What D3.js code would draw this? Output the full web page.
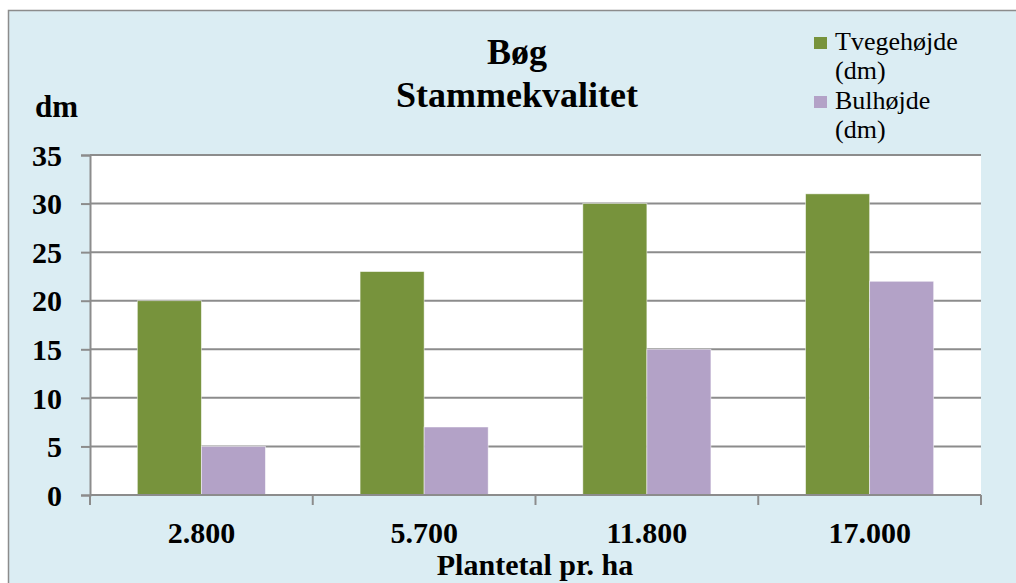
<!DOCTYPE html>
<html>
<head>
<meta charset="utf-8">
<script src="https://cdn.jsdelivr.net/npm/d3@7/dist/d3.min.js"></script>
<style>
  html, body { margin: 0; padding: 0; background: #ffffff; }
  svg { display: block; }
  svg text { font-family: "Liberation Serif", "Times New Roman", serif !important; }
</style>
</head>
<body>
<svg id="chart" width="1016" height="583"></svg>
<script>
const categories = ["2.800", "5.700", "11.800", "17.000"];
const seriesNames = ["Tvegehøjde", "Bulhøjde"];
const tvegehojde = [20, 23, 30, 31];
const bulhojde = [5, 7, 15, 22];
const yTicks = [0, 5, 10, 15, 20, 25, 30, 35];
const colors = ["#77933C", "#B3A2C7"];

const SERIF = "'Liberation Serif', 'Times New Roman', serif";
const svg = d3.select("#chart");

// outer chart area
svg.append("rect")
  .attr("x", 8.5).attr("y", 10.5)
  .attr("width", 1030).attr("height", 600)
  .attr("fill", "#DBEDF3")
  .attr("stroke", "#8C8C8C").attr("stroke-width", 1.5);

const plot = { left: 90, right: 981, top: 155, bottom: 495 };

const y = d3.scaleLinear().domain([0, 35]).range([plot.bottom, plot.top]);
const x0 = d3.scaleBand().domain(categories)
  .range([plot.left, plot.right])
  .paddingInner(0.425).paddingOuter(0.2125);
const x1 = d3.scaleBand().domain(seriesNames).range([0, x0.bandwidth()]).padding(0);

// plot background
svg.append("rect")
  .attr("x", plot.left).attr("y", plot.top)
  .attr("width", plot.right - plot.left).attr("height", plot.bottom - plot.top)
  .attr("fill", "#ffffff");

// gridlines
svg.append("g").selectAll("line")
  .data(yTicks.filter(d => d > 0))
  .join("line")
  .attr("x1", plot.left).attr("x2", plot.right)
  .attr("y1", d => y(d)).attr("y2", d => y(d))
  .attr("stroke", "#8C8C8C").attr("stroke-width", 2);

// bars
const data = categories.map((c, i) => ({ cat: c, vals: [tvegehojde[i], bulhojde[i]] }));
const groups = svg.append("g").selectAll("g")
  .data(data).join("g")
  .attr("transform", d => `translate(${x0(d.cat)},0)`);
groups.selectAll("rect")
  .data(d => d.vals.map((v, j) => ({ name: seriesNames[j], v, j })))
  .join("rect")
  .attr("x", d => x1(d.name))
  .attr("y", d => y(d.v))
  .attr("width", x1.bandwidth())
  .attr("height", d => y(0) - y(d.v))
  .attr("fill", d => colors[d.j])
  .attr("stroke", "rgba(255,255,255,0.6)").attr("stroke-width", 0.8);

// y axis
const yAxis = d3.axisLeft(y).tickValues(yTicks).tickSize(9).tickPadding(8).tickFormat(d3.format("d"));
const gy = svg.append("g").attr("transform", `translate(${plot.left},0)`).call(yAxis)
  .attr("font-family", SERIF);
gy.select(".domain").attr("stroke", "#8C8C8C").attr("stroke-width", 2);
gy.selectAll(".tick line").attr("stroke", "#8C8C8C").attr("stroke-width", 2);
gy.selectAll(".tick text")
  .style("font-family", SERIF)
  .attr("font-size", 30).attr("font-weight", "bold")
  .attr("fill", "#000").attr("dy", "0.34em").attr("x", -28);

// x axis (ticks on category boundaries)
const boundaries = d3.range(categories.length + 1).map(i => plot.left + i * x0.step());
svg.append("line")
  .attr("x1", plot.left).attr("x2", plot.right)
  .attr("y1", plot.bottom).attr("y2", plot.bottom)
  .attr("stroke", "#8C8C8C").attr("stroke-width", 2);
svg.append("g").selectAll("line")
  .data(boundaries).join("line")
  .attr("x1", d => d).attr("x2", d => d)
  .attr("y1", plot.bottom).attr("y2", plot.bottom + 10)
  .attr("stroke", "#8C8C8C").attr("stroke-width", 2);
svg.append("g").selectAll("text")
  .data(categories).join("text")
  .style("font-family", SERIF)
  .attr("x", d => x0(d) + x0.bandwidth() / 2)
  .attr("y", 543)
  .attr("text-anchor", "middle")
  .attr("font-size", 30).attr("font-weight", "bold")
  .text(d => d);

// axis titles
svg.append("text").attr("x", 535).attr("y", 575).style("font-family", SERIF)
  .attr("text-anchor", "middle").attr("font-size", 30).attr("font-weight", "bold")
  .text("Plantetal pr. ha");
svg.append("text").attr("x", 35).attr("y", 117).style("font-family", SERIF)
  .attr("font-size", 31).attr("font-weight", "bold")
  .text("dm");

// title
svg.append("text").attr("x", 517).attr("y", 64).style("font-family", SERIF)
  .attr("text-anchor", "middle").attr("font-size", 36).attr("font-weight", "bold")
  .text("Bøg");
svg.append("text").attr("x", 517).attr("y", 107).style("font-family", SERIF)
  .attr("text-anchor", "middle").attr("font-size", 36).attr("font-weight", "bold")
  .text("Stammekvalitet");

// legend
const legend = svg.append("g");
const legendRows = [
  { lines: ["Tvegehøjde", "(dm)"], color: colors[0], y: 37 },
  { lines: ["Bulhøjde", "(dm)"], color: colors[1], y: 96 }
];
legendRows.forEach(r => {
  legend.append("rect").attr("x", 814).attr("y", r.y).attr("width", 13).attr("height", 12).attr("fill", r.color);
  r.lines.forEach((l, k) => {
    legend.append("text").attr("x", 835).attr("y", r.y + 13 + k * 29)
      .style("font-family", SERIF)
      .attr("font-size", 26).attr("fill", "#000").text(l);
  });
});
</script>
</body>
</html>
